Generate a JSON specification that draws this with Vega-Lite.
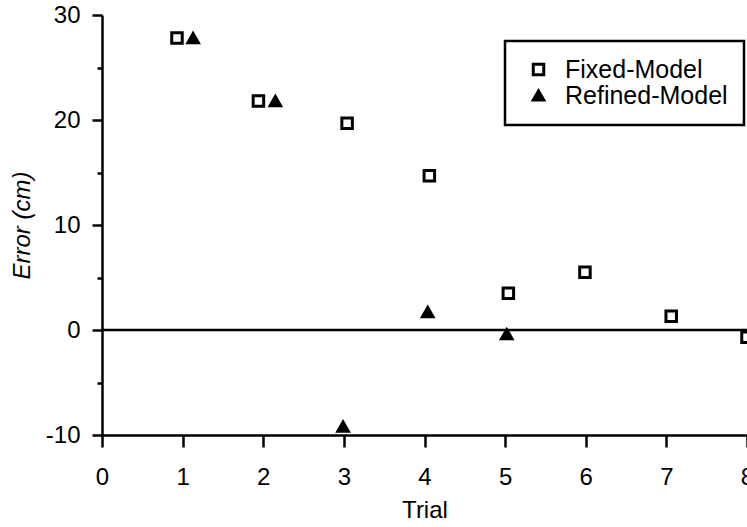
{
  "$schema": "https://vega.github.io/schema/vega-lite/v6.json",
  "width": 645,
  "height": 420,
  "autosize": {"type": "none"},
  "padding": {"left": 102, "top": 15, "right": 0, "bottom": 92},
  "background": "white",
  "config": {
    "view": {"stroke": null},
    "font": "Liberation Sans",
    "legend": {
      "strokeWidth": 2.5,
      "orient": "none",
      "legendX": 403,
      "legendY": 26,
      "strokeColor": "black",
      "fillColor": "white",
      "padding": 16,
      "symbolOffset": 5,
      "symbolSize": 110,
      "symbolStrokeWidth": 3,
      "labelFont": "Liberation Sans",
      "labelFontSize": 25,
      "labelColor": "black",
      "labelOffset": 14,
      "labelLimit": 400,
      "rowPadding": 0
    },
    "axis": {
      "domainColor": "black",
      "domainWidth": 2.5,
      "tickColor": "black",
      "tickWidth": 2.5,
      "labelColor": "black",
      "labelFont": "Liberation Sans",
      "titleColor": "black",
      "titleFont": "Liberation Sans",
      "titleFontWeight": "normal",
      "grid": false
    }
  },
  "datasets": {
    "zero": [{"v": 0}],
    "errors": [
      {"trial": 0.93, "error": 27.8, "model": "Fixed-Model"},
      {"trial": 1.94, "error": 21.8, "model": "Fixed-Model"},
      {"trial": 3.04, "error": 19.7, "model": "Fixed-Model"},
      {"trial": 4.06, "error": 14.7, "model": "Fixed-Model"},
      {"trial": 5.04, "error": 3.5, "model": "Fixed-Model"},
      {"trial": 5.99, "error": 5.5, "model": "Fixed-Model"},
      {"trial": 7.06, "error": 1.3, "model": "Fixed-Model"},
      {"trial": 8.0, "error": -0.7, "model": "Fixed-Model"},
      {"trial": 1.13, "error": 27.8, "model": "Refined-Model"},
      {"trial": 2.15, "error": 21.8, "model": "Refined-Model"},
      {"trial": 2.99, "error": -9.2, "model": "Refined-Model"},
      {"trial": 4.04, "error": 1.7, "model": "Refined-Model"},
      {"trial": 5.02, "error": -0.4, "model": "Refined-Model"}
    ]
  },
  "layer": [
    {
      "data": {"name": "zero"},
      "mark": {"type": "rule", "color": "black", "strokeWidth": 2.5},
      "encoding": {
        "y": {
          "field": "v",
          "type": "quantitative",
          "scale": {"domain": [-10, 30], "nice": false, "zero": false},
          "axis": {
            "orient": "left",
            "values": [-5, 5, 15, 25],
            "labels": false,
            "domain": false,
            "tickSize": 5,
            "title": null
          }
        }
      }
    },
    {
      "data": {"name": "errors"},
      "mark": {"type": "point", "filled": true, "strokeWidth": 3, "size": 110, "opacity": 1, "clip": false},
      "encoding": {
        "x": {
          "field": "trial",
          "type": "quantitative",
          "title": "Trial",
          "scale": {"domain": [0, 8], "nice": false, "zero": false},
          "axis": {
            "values": [0, 1, 2, 3, 4, 5, 6, 7, 8],
            "tickSize": 12,
            "labelFontSize": 24,
            "titleFontSize": 24,
            "labelPadding": 18,
            "titlePadding": 9,
            "labelFlush": false,
            "labelOverlap": false
          }
        },
        "y": {
          "field": "error",
          "type": "quantitative",
          "title": "Error (cm)",
          "scale": {"domain": [-10, 30], "nice": false, "zero": false},
          "axis": {
            "orient": "left",
            "values": [-10, 0, 10, 20, 30],
            "labelExpr": "'' + datum.value",
            "labelFontSize": 24,
            "titleFontSize": 24,
            "tickSize": 10,
            "labelPadding": 12,
            "titlePadding": 11,
            "titleFontStyle": "italic"
          }
        },
        "shape": {
          "field": "model",
          "type": "nominal",
          "title": null,
          "scale": {"domain": ["Fixed-Model", "Refined-Model"], "range": ["square", "triangle-up"]}
        },
        "fill": {
          "field": "model",
          "type": "nominal",
          "title": null,
          "scale": {"domain": ["Fixed-Model", "Refined-Model"], "range": ["white", "black"]}
        },
        "stroke": {
          "field": "model",
          "type": "nominal",
          "title": null,
          "scale": {"domain": ["Fixed-Model", "Refined-Model"], "range": ["black", "black"]}
        }
      }
    }
  ],
  "resolve": {"axis": {"y": "independent"}}
}
